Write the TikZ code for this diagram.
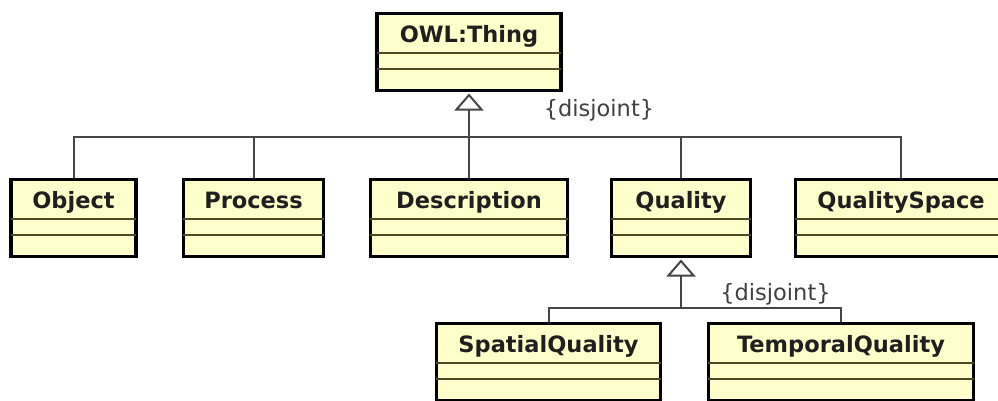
\documentclass[tikz,border=0pt]{standalone}
\usepackage{fontspec}
\setmainfont{DejaVu Sans}
\usetikzlibrary{arrows.meta}

\definecolor{classfill}{RGB}{255,255,204}
\definecolor{dividercol}{RGB}{78,74,40}
\definecolor{linkcol}{RGB}{70,70,70}

% A UML class box: name, centre x, top y, width, label
\newcommand\umlclass[5]{%
  \node[classbox, minimum width=#4] (#1) at (#2,#3) {};
  \draw[divider] ([xshift=1.5pt,yshift=-41pt]#1.north west) -- ([xshift=-1.5pt,yshift=-41pt]#1.north east);
  \draw[divider] ([xshift=1.5pt,yshift=-57pt]#1.north west) -- ([xshift=-1.5pt,yshift=-57pt]#1.north east);
  \node[classname] (#1-name) at ([yshift=-30.5pt]#1.north) {#5};
}

\begin{document}
\begin{tikzpicture}[x=1pt,y=-1pt,
  classbox/.style={draw=black, line width=3.5pt, fill=classfill, minimum height=77pt,
    inner sep=0pt, anchor=north},
  classname/.style={font=\fontsize{22.5}{26}\selectfont\bfseries, text=black!88,
    inner sep=0pt, anchor=base},
  divider/.style={draw=dividercol, line width=2pt},
  link/.style={draw=linkcol, line width=2pt},
  generalization/.style={link, shorten >=1.5pt,
    -{Triangle[open, length=17pt, width=29pt, line join=miter]}},
  constraint/.style={font=\fontsize{22.5}{26}\selectfont, text=black!75, inner sep=0pt}]

\clip (0,0) rectangle (998,400);
\fill[white] (0,0) rectangle (998,400);

% bus lines of the two generalization sets
\coordinate (tbus) at (469,137);
\coordinate (qbus) at (681,308);

% connectors first, boxes on top
\draw[link] (74,177.5) |- (tbus) -| (901,177.5);
\draw[link] (254,177.5) -- (254,137);
\draw[link] (681,177.5) -- (681,137);
\draw[link] (549,321.5) |- (qbus) -| (841,321.5);

% classes
\umlclass{thing}{469}{11.5}{184pt}{OWL:Thing}
\umlclass{object}{73.5}{177.5}{125pt}{Object}
\umlclass{process}{253.5}{177.5}{140pt}{Process}
\umlclass{description}{469}{177.5}{197pt}{Description}
\umlclass{quality}{681}{177.5}{139pt}{Quality}
\umlclass{qspace}{901}{177.5}{211pt}{QualitySpace}
\umlclass{spatial}{548.5}{321.5}{224pt}{SpatialQuality}
\umlclass{temporal}{841}{321.5}{265pt}{TemporalQuality}

% generalization arrows
\draw[generalization] (description.north) -- (thing.south);
\draw[generalization] (qbus) -- (quality.south);

% constraints
\node[constraint] (dj-top) at (599,110) {\{disjoint\}};
\node[constraint] (dj-low) at (775.5,294) {\{disjoint\}};
\end{tikzpicture}
\end{document}
